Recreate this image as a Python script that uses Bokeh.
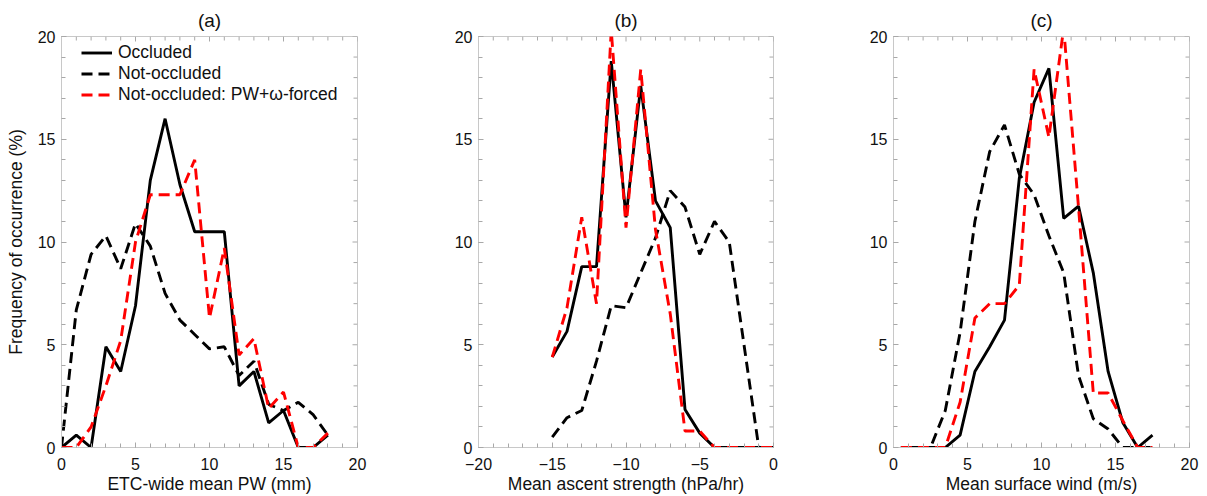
import math
from bokeh.plotting import figure
from bokeh.layouts import row
from bokeh.models import Range1d, FixedTicker, Legend, LegendItem
from bokeh.embed import file_html
from bokeh.resources import INLINE

# ---------------- data ----------------
# (a) ETC-wide mean PW (mm)
pw_x = list(range(0, 19))
pw_occluded = [0.0, 0.6, 0.0, 4.9, 3.7, 6.9, 13.0, 16.0, 12.8, 10.5, 10.5, 10.5, 3.0, 3.7, 1.2, 1.8, 0.0, 0.0, 0.6]
pw_not_occluded = [0.0, 6.7, 9.4, 10.3, 8.7, 10.9, 9.8, 7.5, 6.2, 5.5, 4.8, 4.9, 3.5, 4.2, 2.1, 1.8, 2.2, 1.6, 0.6]
pw_forced = [0.0, 0.0, 1.0, 3.0, 5.2, 10.0, 12.3, 12.3, 12.3, 14.0, 6.3, 9.7, 4.5, 5.3, 1.9, 2.7, 0.0, 0.0, 0.7]

# (b) Mean ascent strength (hPa/hr)
asc_x = list(range(-15, 1))
asc_occluded = [4.4, 5.65, 8.8, 8.8, 18.8, 11.2, 17.6, 12.0, 10.7, 1.85, 0.7, 0.0, 0.0, 0.0, 0.0, 0.0]
asc_not_occluded = [0.5, 1.45, 1.8, 4.2, 6.9, 6.8, 8.5, 10.2, 12.5, 11.7, 9.4, 11.0, 10.0, 5.0, 0.0, 0.0]
asc_forced = [4.4, 6.8, 11.2, 7.0, 20.3, 10.7, 18.4, 10.6, 6.5, 0.8, 0.8, 0.0, 0.0, 0.0, 0.0, 0.0]

# (c) Mean surface wind (m/s)
wind_x = [0.5, 1.5, 2.5, 3.5, 4.5, 5.5, 6.5, 7.5, 8.5, 9.5, 10.5, 11.5, 12.5, 13.5, 14.5, 15.5, 16.5, 17.5]
wind_occluded = [0.0, 0.0, 0.0, 0.0, 0.6, 3.7, 4.9, 6.2, 13.1, 16.8, 18.45, 11.15, 11.75, 8.5, 3.7, 1.2, 0.0, 0.6]
wind_not_occluded = [0.0, 0.0, 0.0, 1.8, 5.6, 11.0, 14.4, 15.7, 13.3, 12.3, 10.3, 8.5, 3.5, 1.4, 0.9, 0.0, 0.0, 0.0]
wind_forced = [0.0, 0.0, 0.0, 0.0, 2.2, 6.3, 7.0, 7.0, 7.9, 18.4, 15.1, 20.4, 11.7, 2.65, 2.65, 1.3, 0.0, 0.0]

titles = ["(a)", "(b)", "(c)"]
xlabels = ["ETC-wide mean PW (mm)", "Mean ascent strength (hPa/hr)", "Mean surface wind (m/s)"]
ylabel = "Frequency of occurrence (%)"
legend_labels = ["Occluded", "Not-occluded", "Not-occluded: PW+\u03c9-forced"]
x_major_a = [0, 5, 10, 15, 20]
x_major_b = [-20, -15, -10, -5, 0]
x_major_c = [0, 5, 10, 15, 20]
y_major = [0, 5, 10, 15, 20]

FONT = "Liberation Sans"
FRAME = "#c8c8c8"
TICK = "#a8a8a8"
TXT = "#111111"
DASH = "11 6"
LW = 2.9


def style_axis(ax, ticker, standoff):
    ax.ticker = ticker
    ax.axis_line_color = FRAME
    ax.axis_line_width = 1
    ax.major_tick_in = 5
    ax.major_tick_out = 0
    ax.minor_tick_in = 4
    ax.minor_tick_out = 0
    ax.major_tick_line_color = TICK
    ax.minor_tick_line_color = TICK
    ax.major_label_text_font = FONT
    ax.major_label_text_font_size = "16px"
    ax.major_label_text_color = TXT
    ax.major_label_standoff = standoff


def panel(title, xr, xmajor, xlabel, xs, occ, notocc, forced, width, bl, br,
          with_ylabel=False, with_legend=False):
    p = figure(width=width, height=496, x_range=Range1d(*xr), y_range=Range1d(0, 20),
               output_backend="svg", toolbar_location=None,
               min_border_left=bl, min_border_right=br, min_border_top=36, min_border_bottom=48)
    p.title.text = title
    p.title.align = "center"
    p.title.text_font = FONT
    p.title.text_font_size = "19px"
    p.title.text_font_style = "normal"
    p.title.text_color = TXT
    p.title.standoff = 12
    p.xgrid.visible = False
    p.ygrid.visible = False
    p.outline_line_color = FRAME
    p.outline_line_width = 1

    xminor = list(range(int(xr[0]), int(xr[1]) + 1))
    yminor = list(range(0, 21))

    style_axis(p.xaxis[0], FixedTicker(ticks=xmajor, minor_ticks=xminor), 10)
    p.xaxis[0].axis_label = xlabel
    p.xaxis[0].axis_label_text_font = FONT
    p.xaxis[0].axis_label_text_font_size = "17.5px"
    p.xaxis[0].axis_label_text_font_style = "normal"
    p.xaxis[0].axis_label_text_color = TXT
    p.xaxis[0].axis_label_standoff = 1

    style_axis(p.yaxis[0], FixedTicker(ticks=y_major, minor_ticks=yminor), 6)
    if with_ylabel:
        p.yaxis[0].axis_label = ylabel
        p.yaxis[0].axis_label_text_font = FONT
        p.yaxis[0].axis_label_text_font_size = "17.5px"
        p.yaxis[0].axis_label_text_font_style = "normal"
        p.yaxis[0].axis_label_text_color = TXT
        p.yaxis[0].axis_label_standoff = 9

    # mirrored inward ticks on the top and right edges of the frame
    xmin_only = [v for v in xminor if v not in xmajor]
    ymin_only = [v for v in yminor if v not in y_major]
    p.ray(x=xmajor, y=[yminor[-1]] * len(xmajor), length=5, angle=-math.pi / 2,
          length_units="screen", line_color=TICK, line_width=1)
    p.ray(x=xmin_only, y=[yminor[-1]] * len(xmin_only), length=4, angle=-math.pi / 2,
          length_units="screen", line_color=TICK, line_width=1)
    p.ray(x=[xr[1]] * len(y_major), y=y_major, length=5, angle=math.pi,
          length_units="screen", line_color=TICK, line_width=1)
    p.ray(x=[xr[1]] * len(ymin_only), y=ymin_only, length=4, angle=math.pi,
          length_units="screen", line_color=TICK, line_width=1)

    r1 = p.line(xs, occ, line_color="black", line_width=LW)
    r2 = p.line(xs, notocc, line_color="black", line_width=LW, line_dash=DASH)
    r3 = p.line(xs, forced, line_color="#ff0000", line_width=LW, line_dash=DASH)

    if with_legend:
        items = [LegendItem(label=legend_labels[0], renderers=[r1]),
                 LegendItem(label=legend_labels[1], renderers=[r2]),
                 LegendItem(label=legend_labels[2], renderers=[r3])]
        leg = Legend(items=items, location=(20, 342), background_fill_alpha=0, border_line_alpha=0,
                     label_text_font=FONT, label_text_font_size="17.5px", label_text_color=TXT,
                     glyph_width=31, glyph_height=19, label_height=19, spacing=-3, padding=0,
                     margin=0, label_standoff=6)
        p.add_layout(leg)
    return p


pa = panel(titles[0], (0, 20), x_major_a, xlabels[0], pw_x, pw_occluded, pw_not_occluded, pw_forced,
           408, 61, 51, with_ylabel=True, with_legend=True)
pb = panel(titles[1], (-20, 0), x_major_b, xlabels[1], asc_x, asc_occluded, asc_not_occluded, asc_forced,
           408, 70, 43)
pc = panel(titles[2], (0, 20), x_major_c, xlabels[2], wind_x, wind_occluded, wind_not_occluded, wind_forced,
           391, 77, 18)

p = row(pa, pb, pc)
open("out.html", "w").write(file_html(p, INLINE))
